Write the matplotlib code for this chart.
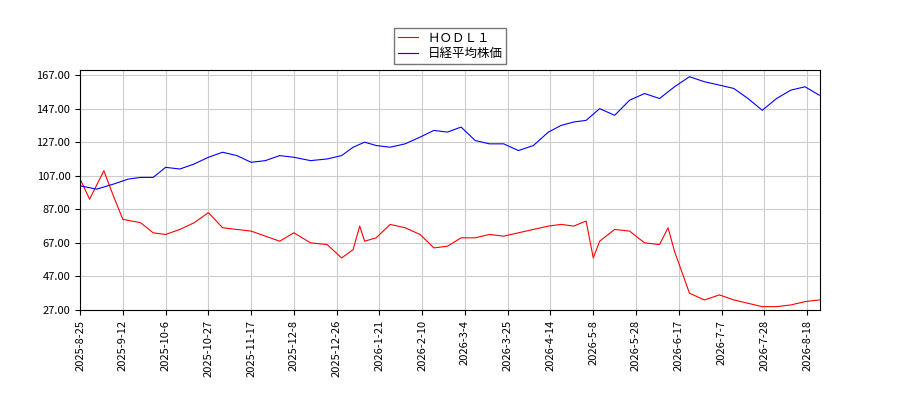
import matplotlib
matplotlib.use("Agg")
import matplotlib.pyplot as plt
import numpy as np
import pandas as pd

plt.rcParams['font.family'] = ['Noto Sans CJK JP', 'DejaVu Sans']

blue_dates = ["2025-08-25","2025-09-01","2025-09-08","2025-09-15","2025-09-22","2025-09-29","2025-10-06","2025-10-13","2025-10-20","2025-10-27","2025-11-03","2025-11-10","2025-11-17","2025-11-24","2025-12-01","2025-12-08","2025-12-15","2025-12-22","2025-12-29","2026-01-05","2026-01-12","2026-01-19","2026-01-26","2026-02-02","2026-02-09","2026-02-16","2026-02-23","2026-03-02","2026-03-09","2026-03-16","2026-03-23","2026-03-30","2026-04-06","2026-04-13","2026-04-20","2026-04-27","2026-05-04","2026-05-11","2026-05-18","2026-05-25","2026-06-01","2026-06-08","2026-06-15","2026-06-22","2026-06-29","2026-07-06","2026-07-13","2026-07-20","2026-07-27","2026-08-03","2026-08-10","2026-08-17","2026-08-24"]
blue_vals = [101,99,102,105,106,106,112,111,114,118,121,119,115,116,119,118,116,117,119,124,127,125,124,126,130,134,133,136,128,126,126,122,125,133,137,139,140,147,143,152,156,153,160,166,163,161,159,153,146,153,158,160,155]

red_dates = ["2025-08-25","2025-08-29","2025-09-04","2025-09-08","2025-09-12","2025-09-22","2025-09-29","2025-10-06","2025-10-13","2025-10-20","2025-10-27","2025-11-03","2025-11-10","2025-11-17","2025-11-24","2025-12-01","2025-12-08","2025-12-15","2025-12-22","2025-12-29","2026-01-05","2026-01-09","2026-01-12","2026-01-19","2026-01-26","2026-02-02","2026-02-09","2026-02-16","2026-02-23","2026-03-02","2026-03-09","2026-03-16","2026-03-23","2026-03-30","2026-04-06","2026-04-13","2026-04-20","2026-04-27","2026-05-04","2026-05-08","2026-05-11","2026-05-18","2026-05-25","2026-06-01","2026-06-08","2026-06-12","2026-06-15","2026-06-22","2026-06-29","2026-07-06","2026-07-13","2026-07-20","2026-07-27","2026-08-03","2026-08-10","2026-08-17","2026-08-24"]
red_vals = [105,93,110,95,81,79,73,72,75,79,85,76,75,74,71,68,73,67,66,58,63,77,68,70,78,76,72,64,65,70,70,72,71,73,75,77,78,77,80,58,68,75,74,67,66,76,62,37,33,36,33,31,29,29,30,32,33]

ticks = ["2025-8-25","2025-9-12","2025-10-6","2025-10-27","2025-11-17","2025-12-8","2025-12-26","2026-1-21","2026-2-10","2026-3-4","2026-3-25","2026-4-14","2026-5-8","2026-5-28","2026-6-17","2026-7-7","2026-7-28","2026-8-18"]

# trading-day style axis: ticks equally spaced, dates mapped between them
tick_ord = pd.to_datetime(ticks).map(pd.Timestamp.toordinal).to_numpy(dtype=float)
tick_pos = np.arange(len(ticks), dtype=float)
def pos(dates):
    o = pd.to_datetime(dates).map(pd.Timestamp.toordinal).to_numpy(dtype=float)
    p = np.interp(o, tick_ord, tick_pos)
    slope = 1.0 / (tick_ord[-1] - tick_ord[-2])
    over = o > tick_ord[-1]
    p[over] = tick_pos[-1] + (o[over] - tick_ord[-1]) * slope * 1.0
    return p

fig = plt.figure(figsize=(9, 4), dpi=100)
ax = fig.add_axes([0.089, 0.225, 0.822, 0.6])
ax.plot(pos(red_dates), red_vals, color='red', lw=0.8, label='ＨＯＤＬ１')
ax.plot(pos(blue_dates), blue_vals, color='blue', lw=0.8, label='日経平均株価')
ax.set_ylim(27, 170)
ax.set_yticks(range(27, 168, 20))
ax.set_yticklabels([f"{v:.2f}" for v in range(27, 168, 20)], fontsize=8)
ax.set_xlim(0, 17.3)
ax.set_xticks(tick_pos)
ax.set_xticklabels(ticks, rotation=90, fontsize=8)
ax.grid(True, color='#cccccc', lw=0.8)
ax.legend(loc='lower center', bbox_to_anchor=(0.5, 1.0), fontsize=9, frameon=True, fancybox=False,
          edgecolor='#555555', handlelength=1.6, borderpad=0.3, labelspacing=0.2)
fig.savefig("out.png")
